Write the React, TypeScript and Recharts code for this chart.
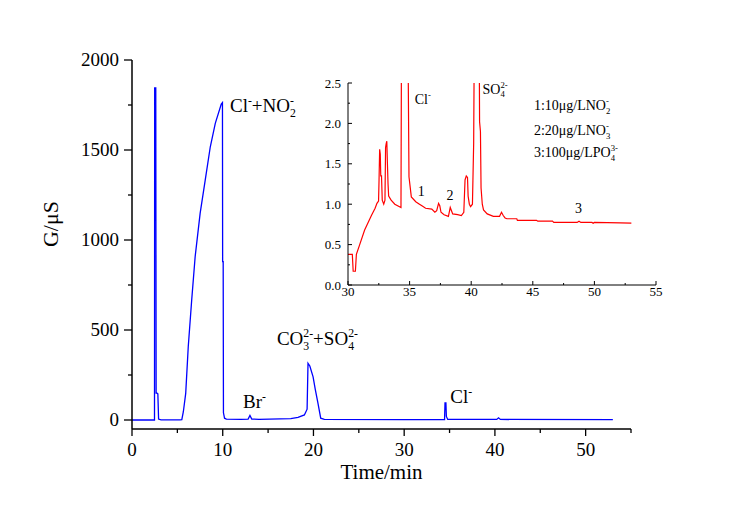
import { LineChart, Line, XAxis, YAxis, ReferenceDot } from "recharts";

const FONT = '"Liberation Serif", "Times New Roman", serif';

// main chromatogram (blue)
const mainTime = [
  0, 2.48, 2.5, 2.62, 2.66, 2.72, 2.85, 2.93, 3.2, 5.3, 5.49, 5.66, 5.92, 6.2, 6.58, 6.96, 7.51, 8.07, 8.63,
  9.18, 9.84, 9.97, 9.99, 10.05, 10.08, 10.2, 10.4, 12, 12.8, 13.0, 13.2, 14, 17.5, 18.3, 19.0, 19.3, 19.4,
  19.6, 19.96, 20.2, 20.5, 20.8, 21.2, 30, 34.45, 34.5, 34.6, 34.65, 34.8, 40.2, 40.4, 40.6, 53,
];
const mainSignal = [
  0, 0, 1845, 1845, 150, 150, 145, 5, 1, 1, 2, 46, 148, 407, 667, 907, 1148, 1333, 1518,
  1648, 1755, 1763, 880, 880, 40, 10, 5, 4, 5, 25, 5, 4, 8, 15, 28, 60, 315,
  300, 240, 170, 93, 10, 3, 2, 2, 95, 95, 20, 3, 3, 12, 3, 2,
];

// inset zoom (red)
const insetTime = [
  30.0, 30.35, 30.42, 30.6, 30.68, 30.95, 31.35, 31.9, 32.2, 32.35, 32.48, 32.52, 32.57, 32.62, 32.66, 32.72,
  32.78, 32.9, 33.0, 33.05, 33.1, 33.15, 33.2, 33.25, 33.3, 33.5, 33.8, 34.3, 34.34, 34.87, 34.95, 35.14,
  35.5, 35.8, 36.0, 36.3, 36.8, 37.05, 37.2, 37.35, 37.45, 37.55, 37.8, 38.15, 38.3, 38.4, 38.5, 38.9,
  39.2, 39.4, 39.5, 39.6, 39.7, 39.75, 39.85, 39.95, 40.1, 40.2, 40.25, 40.65, 40.68, 40.75, 40.8, 40.9,
  41.0, 41.3, 41.8, 42.3, 42.46, 42.6, 42.75, 42.9, 43.7, 43.75, 45.3, 45.4, 46.6, 46.7, 48.6, 48.75,
  48.9, 49.8, 49.9, 50.0, 52.1, 53.0,
];
const insetSignal = [
  0.38, 0.38, 0.17, 0.17, 0.38, 0.5, 0.68, 0.86, 0.95, 1.01, 1.04, 1.3, 1.68, 1.62, 1.35, 1.35,
  1.05, 1.0, 1.05, 1.7, 1.75, 1.78, 1.5, 1.25, 1.1, 1.05, 1.0, 0.96, 3, 3, 1.34, 1.09,
  1.03, 1.0, 0.98, 0.95, 0.94, 0.9, 0.92, 1.01, 0.98, 0.9, 0.87, 0.85, 0.96, 0.92, 0.88, 0.87,
  0.86, 0.9, 1.3, 1.35, 1.33, 1.1, 1.0, 0.97, 1.0, 1.75, 3, 3, 2.02, 1.9, 1.2, 1.0,
  0.93, 0.88, 0.85, 0.85, 0.9, 0.86, 0.83, 0.82, 0.82, 0.8, 0.8, 0.79, 0.79, 0.775, 0.775, 0.79,
  0.775, 0.775, 0.765, 0.775, 0.77, 0.765,
];

const mainXTicks = [0, 5, 10, 15, 20, 25, 30, 35, 40, 45, 50, 55];
const mainYTicks = [0, 250, 500, 750, 1000, 1250, 1500, 1750, 2000];
const insetXTicks = [30, 32.5, 35, 37.5, 40, 42.5, 45, 47.5, 50, 52.5, 55];
const insetYTicks = [0, 0.25, 0.5, 0.75, 1, 1.25, 1.5, 1.75, 2, 2.25, 2.5];

type Part = { t?: string; sub?: string; sup?: string };

const mainNotes: { x: number; y: number; parts: Part[] }[] = [
  { x: 10.8, y: 1711, parts: [{ t: "Cl" }, { sup: "-" }, { t: "+NO" }, { sub: "2", sup: "-" }] },
  { x: 12.23, y: 67, parts: [{ t: "Br" }, { sup: "-" }] },
  { x: 15.97, y: 417, parts: [{ t: "CO" }, { sub: "3", sup: "2-" }, { t: "+SO" }, { sub: "4", sup: "2-" }] },
  { x: 35.09, y: 94, parts: [{ t: "Cl" }, { sup: "-" }] },
];

const insetNotes: { x: number; y: number; parts: Part[] }[] = [
  { x: 35.42, y: 2.246, parts: [{ t: "Cl" }, { sup: "-" }] },
  { x: 40.92, y: 2.37, parts: [{ t: "SO" }, { sub: "4", sup: "2-" }] },
  { x: 45.09, y: 2.17, parts: [{ t: "1:10\u03bcg/LNO" }, { sub: "2", sup: "-" }] },
  { x: 45.09, y: 1.854, parts: [{ t: "2:20\u03bcg/LNO" }, { sub: "3", sup: "-" }] },
  { x: 45.09, y: 1.586, parts: [{ t: "3:100\u03bcg/LPO" }, { sub: "4", sup: "3-" }] },
  { x: 35.66, y: 1.1, parts: [{ t: "1" }] },
  { x: 37.99, y: 1.05, parts: [{ t: "2" }] },
  { x: 48.42, y: 0.894, parts: [{ t: "3" }] },
];

const mainData = mainTime.map((t, i) => ({ t, g: mainSignal[i] }));
const insetData = insetTime.map((t, i) => ({ t, g: insetSignal[i] }));

function Formula({ x, y, parts, fontSize }: { x: number; y: number; parts: Part[]; fontSize: number }) {
  const small = fontSize * 0.62;
  let offset = 0;
  const spans: any[] = [];
  parts.forEach((p, i) => {
    if (p.t) {
      spans.push(
        <tspan key={i} fontSize={fontSize} dy={-offset}>
          {p.t}
        </tspan>
      );
      offset = 0;
      return;
    }
    if (p.sub) {
      const target = fontSize * 0.28;
      spans.push(
        <tspan key={i + "b"} fontSize={small} dy={target - offset}>
          {p.sub}
        </tspan>
      );
      offset = target;
    }
    if (p.sup) {
      const target = -fontSize * 0.42;
      const dx = p.sub ? -small * 0.5 * p.sub.length : 0;
      spans.push(
        <tspan key={i + "p"} fontSize={small} dx={dx} dy={target - offset}>
          {p.sup}
        </tspan>
      );
      offset = target;
    }
  });
  return (
    <text x={x} y={y} fontFamily={FONT} fill="#000">
      {spans}
    </text>
  );
}

function MainYTick({ x, y, payload }: any) {
  const major = payload.value % 500 === 0;
  return (
    <g>
      <line x1={x - (major ? 8 : 4)} x2={x} y1={y} y2={y} stroke="#000" strokeWidth={1.3} />
      {major && (
        <text x={x - 13} y={y} dy={6} textAnchor="end" fontSize={19} fontFamily={FONT} fill="#000">
          {payload.value}
        </text>
      )}
    </g>
  );
}

function MainXTick({ x, y, payload }: any) {
  const major = payload.value % 10 === 0;
  return (
    <g>
      <line x1={x} x2={x} y1={y} y2={y + (major ? 7 : 4)} stroke="#000" strokeWidth={1.3} />
      {major && (
        <text x={x} y={y + 27} textAnchor="middle" fontSize={19} fontFamily={FONT} fill="#000">
          {payload.value}
        </text>
      )}
    </g>
  );
}

function InsetYTick({ x, y, payload }: any) {
  const major = Math.abs(payload.value * 2 - Math.round(payload.value * 2)) < 1e-6;
  return (
    <g>
      <line x1={x} x2={x + (major ? 4 : 2)} y1={y} y2={y} stroke="#000" strokeWidth={1} />
      {major && (
        <text x={x - 7} y={y} dy={4.5} textAnchor="end" fontSize={13} fontFamily={FONT} fill="#000">
          {payload.value.toFixed(1)}
        </text>
      )}
    </g>
  );
}

function InsetXTick({ x, y, payload }: any) {
  const major = payload.value % 5 === 0;
  return (
    <g>
      <line x1={x} x2={x} y1={y} y2={y - (major ? 4 : 2)} stroke="#000" strokeWidth={1} />
      {major && (
        <text x={x} y={y + 11} textAnchor="middle" fontSize={13} fontFamily={FONT} fill="#000">
          {payload.value}
        </text>
      )}
    </g>
  );
}

function notesOf(notes: { x: number; y: number; parts: Part[] }[], fontSize: number) {
  return notes.map((n, i) => (
    <ReferenceDot
      key={i}
      x={n.x}
      y={n.y}
      r={0}
      fill="none"
      stroke="none"
      label={{
        content: (props: any) => (
          <Formula x={props.viewBox.x} y={props.viewBox.y} parts={n.parts} fontSize={fontSize} />
        ),
      }}
    />
  ));
}

export default function App() {
  return (
    <div style={{ position: "absolute", left: 0, top: 0, width: 736, height: 517, background: "#fff" }}>
      <div style={{ position: "absolute", left: 0, top: 0 }}>
        <LineChart width={736} height={517} data={mainData} margin={{ top: 60, right: 105, bottom: 87, left: 131 }}>
          <XAxis
            dataKey="t"
            type="number"
            domain={[0, 55]}
            ticks={mainXTicks}
            interval={0}
            height={1}
            tickSize={0}
            tickMargin={0}
            tickLine={false}
            axisLine={{ stroke: "#000", strokeWidth: 1.5 }}
            tick={<MainXTick />}
            label={{
              content: (props: any) => (
                <text
                  x={props.viewBox.x + props.viewBox.width / 2}
                  y={props.viewBox.y + 50}
                  textAnchor="middle"
                  fontSize={21}
                  fontFamily={FONT}
                  fill="#000"
                >
                  Time/min
                </text>
              ),
            }}
          />
          <YAxis
            type="number"
            domain={[-50, 2000]}
            ticks={mainYTicks}
            interval={0}
            width={1}
            tickSize={0}
            tickMargin={0}
            tickLine={false}
            axisLine={{ stroke: "#000", strokeWidth: 1.5 }}
            tick={<MainYTick />}
            label={{
              content: (props: any) => {
                const cx = props.viewBox.x - 81;
                const cy = props.viewBox.y + 164;
                return (
                  <text
                    x={cx}
                    y={cy}
                    dy="0.35em"
                    transform={`rotate(-90 ${cx} ${cy})`}
                    textAnchor="middle"
                    fontSize={22}
                    fontFamily={FONT}
                    fill="#000"
                  >
                    G/{"\u03bc"}S
                  </text>
                );
              },
            }}
          />
          <Line
            type="linear"
            dataKey="g"
            stroke="#0000ff"
            strokeWidth={1.3}
            dot={false}
            activeDot={false}
            isAnimationActive={false}
          />
          {notesOf(mainNotes, 19)}
        </LineChart>
      </div>
      <div style={{ position: "absolute", left: 0, top: 0 }}>
        <LineChart width={736} height={517} data={insetData} margin={{ top: 83, right: 80, bottom: 231, left: 347 }}>
          <XAxis
            dataKey="t"
            type="number"
            domain={[30, 55]}
            ticks={insetXTicks}
            interval={0}
            height={1}
            tickSize={0}
            tickMargin={0}
            tickLine={false}
            axisLine={{ stroke: "#000", strokeWidth: 1 }}
            tick={<InsetXTick />}
          />
          <YAxis
            type="number"
            domain={[0, 2.5]}
            allowDataOverflow
            ticks={insetYTicks}
            interval={0}
            width={1}
            tickSize={0}
            tickMargin={0}
            tickLine={false}
            axisLine={{ stroke: "#000", strokeWidth: 1 }}
            tick={<InsetYTick />}
          />
          <Line
            type="linear"
            dataKey="g"
            stroke="#ff0000"
            strokeWidth={1.2}
            dot={false}
            activeDot={false}
            isAnimationActive={false}
          />
          {notesOf(insetNotes, 14)}
        </LineChart>
      </div>
    </div>
  );
}
